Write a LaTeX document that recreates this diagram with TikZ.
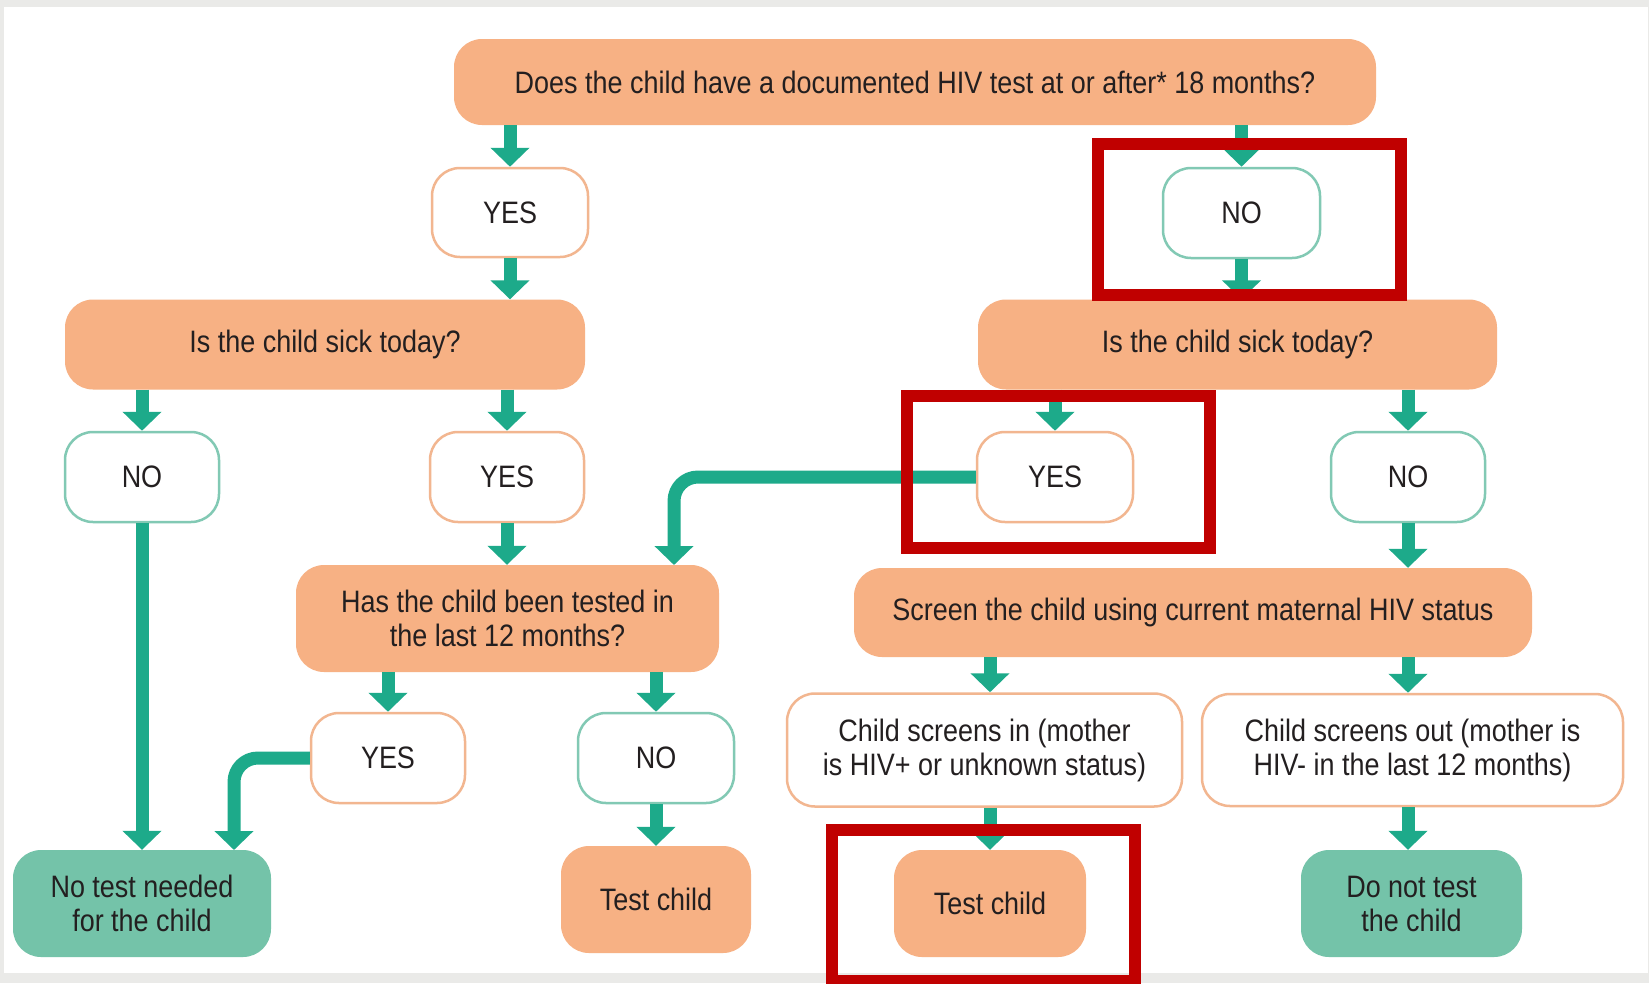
\documentclass[tikz,border=0pt]{standalone}
\usepackage{fontspec}
\setmainfont{Liberation Sans}[FakeStretch=0.87]
\usetikzlibrary{arrows.meta}
\definecolor{orfill}{HTML}{F7B184}
\definecolor{orline}{HTML}{F2B690}
\definecolor{grfill}{HTML}{74C3A9}
\definecolor{tline}{HTML}{82C9B4}
\definecolor{arrc}{HTML}{1DAA8A}
\definecolor{txt}{HTML}{231F20}
\definecolor{redc}{HTML}{C00000}
\definecolor{framec}{HTML}{EAEAE8}
\begin{document}
\begin{tikzpicture}[x=1pt,y=-1pt,
  box/.style={rounded corners=28pt, inner sep=0pt, align=center, text=txt,
    font=\fontsize{31}{34}\selectfont},
  ob/.style={box, fill=orfill},
  gb/.style={box, fill=grfill},
  wo/.style={box, fill=white, draw=orline, line width=2.5pt},
  wg/.style={box, fill=white, draw=tline, line width=2.5pt},
  sz/.style 2 args={minimum width=#1pt, minimum height=#2pt},
  arr/.style={draw=arrc, line width=13pt, -{Triangle[width=38pt,length=19pt]}},
  hl/.style={draw=redc, line width=12pt}]
\fill[framec] (0,0) rectangle (1649,983);
\fill[white] (4,7) rectangle (1648,973);
\useasboundingbox (0,0) rectangle (1649,983);

% nodes
\node[ob, sz={922}{86}] (top) at (915,82) {Does the child have a documented HIV test at or after* 18 months?};
\node[wo, sz={156}{89}] (yes1) at (510,212.5) {YES};
\node[wg, sz={157}{90}] (no1) at (1241.5,213) {NO};
\node[ob, sz={520}{90}] (sickL) at (325,344.5) {Is the child sick today?};
\node[ob, sz={519}{90}] (sickR) at (1237.5,344.5) {Is the child sick today?};
\node[wg, sz={154}{90}] (no2) at (142,477) {NO};
\node[wo, sz={154}{90}] (yes2) at (507,477) {YES};
\node[wo, sz={156}{90}] (yes3) at (1055,477) {YES};
\node[wg, sz={154}{90}] (no3) at (1408,477) {NO};
\node[ob, sz={423}{107}] (has) at (507.5,618.5) {Has the child been tested in\\the last 12 months?};
\node[ob, sz={678}{89}] (screen) at (1193,612.5) {Screen the child using current maternal HIV status};
\node[wo, sz={154}{90}] (yes4) at (388,758) {YES};
\node[wg, sz={156}{90}] (no4) at (656,758) {NO};
\node[wo, sz={395}{113}] (sin) at (984.5,750) {Child screens in (mother\\is HIV+ or unknown status)};
\node[wo, sz={421}{112}] (sout) at (1412.5,750) {Child screens out (mother is\\HIV- in the last 12 months)};
\node[gb, sz={258}{107}] (notest) at (142,903.5) {No test needed\\for the child};
\node[ob, sz={190}{107}] (testL) at (656,899.5) {Test child};
\node[ob, sz={192}{107}] (testR) at (990,903.5) {Test child};
\node[gb, sz={221}{107}] (donot) at (1411.5,903.5) {Do not test\\the child};

\coordinate (hasin) at (674,565);
\coordinate (notestin) at (234,850);

% connectors
\draw[arr] (top.south -| yes1) -- (yes1.north);
\draw[arr] (top.south -| no1) -- (no1.north);
\draw[arr] (yes1.south) -- (sickL.north -| yes1);
\draw[arr] (no1.south) -- (sickR.north -| no1);
\draw[arr] (sickL.south -| no2) -- (no2.north);
\draw[arr] (sickL.south -| yes2) -- (yes2.north);
\draw[arr] (sickR.south -| yes3) -- (yes3.north);
\draw[arr] (sickR.south -| no3) -- (no3.north);
\draw[arr] (no2.south) -- (notest.north);
\draw[arr] (yes2.south) -- (has.north -| yes2);
\draw[arr, rounded corners=24pt] (yes3.west) -| (hasin);
\draw[arr] (no3.south) -- (screen.north -| no3);
\draw[arr] (has.south -| yes4) -- (yes4.north);
\draw[arr] (has.south -| no4) -- (no4.north);
\draw[arr, rounded corners=24pt] (yes4.west) -| (notestin);
\draw[arr] (no4.south) -- (testL.north);
\draw[arr] (screen.south -| testR) -- (sin.north -| testR);
\draw[arr] (screen.south -| no3) -- (sout.north -| no3);
\draw[arr] (sin.south -| testR) -- (testR.north);
\draw[arr] (sout.south -| no3) -- (donot.north -| no3);

% red highlight frames
\draw[hl] (1098,144) rectangle (1401,295);
\draw[hl] (907,396) rectangle (1210,548);
\draw[hl] (832,830) rectangle (1135,981);
\end{tikzpicture}
\end{document}
